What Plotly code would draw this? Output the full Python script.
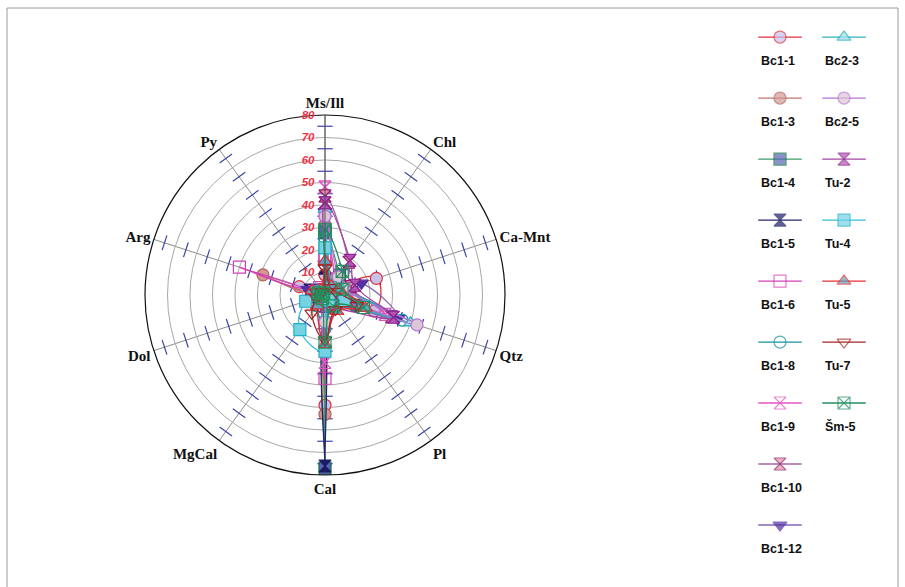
import plotly.graph_objects as go

# Mineral axes, clockwise from the top
minerals = ["Ms/Ill", "Chl", "Ca-Mnt", "Qtz", "Pl", "Cal", "MgCal", "Dol", "Arg", "Py"]
radial_ticks = [10, 20, 30, 40, 50, 60, 70, 80]

# Mineral contents (%) per sample, in the order of `minerals`
bc1_1 = [9, 6, 24, 23, 5, 49, 3, 4, 12, 3]
bc1_3 = [31, 5, 6, 12, 4, 53, 2, 3, 29, 2]
bc1_4 = [28, 11, 8, 15, 6, 77, 2, 2, 3, 1]
bc1_5 = [12, 4, 7, 8, 3, 76, 2, 3, 7, 2]
bc1_6 = [16, 5, 4, 10, 4, 37, 3, 2, 40, 4]
bc1_8 = [25, 6, 9, 36, 5, 15, 6, 3, 3, 2]
bc1_9 = [48, 9, 10, 28, 6, 30, 3, 2, 5, 2]
bc1_10 = [44, 18, 12, 31, 5, 8, 2, 2, 3, 2]
bc1_12 = [37, 7, 17, 34, 4, 6, 2, 3, 8, 3]
bc2_3 = [38, 6, 8, 40, 6, 10, 4, 3, 2, 2]
bc2_5 = [35, 10, 9, 43, 5, 12, 3, 2, 4, 2]
tu_2 = [41, 19, 14, 32, 7, 5, 2, 2, 3, 1]
tu_4 = [21, 4, 6, 9, 3, 25, 19, 9, 3, 2]
tu_5 = [15, 5, 7, 19, 9, 22, 6, 3, 6, 3]
tu_7 = [12, 4, 5, 15, 8, 20, 10, 4, 4, 2]
sm_5 = [29, 13, 8, 18, 6, 21, 2, 2, 3, 1]

samples = [
    ("Bc1-1", bc1_1), ("Bc1-3", bc1_3), ("Bc1-4", bc1_4), ("Bc1-5", bc1_5),
    ("Bc1-6", bc1_6), ("Bc1-8", bc1_8), ("Bc1-9", bc1_9), ("Bc1-10", bc1_10),
    ("Bc1-12", bc1_12), ("Bc2-3", bc2_3), ("Bc2-5", bc2_5), ("Tu-2", tu_2),
    ("Tu-4", tu_4), ("Tu-5", tu_5), ("Tu-7", tu_7), ("Šm-5", sm_5),
]

# Line colour, marker symbol, marker fill, marker outline
styles = {
    "Bc1-1": ("#e0303c", "circle", "#c6c2ea", "#e0303c"),
    "Bc1-3": ("#c07470", "circle", "#d29a94", "#b0605c"),
    "Bc1-4": ("#3c9c6c", "square", "#5864b4", "#107040"),
    "Bc1-5": ("#24246a", "hourglass", "#1c1c64", "#1c1c64"),
    "Bc1-6": ("#d440b4", "square-open", "#d440b4", "#d440b4"),
    "Bc1-8": ("#14929a", "circle-open", "#14929a", "#14929a"),
    "Bc1-9": ("#e452c4", "hourglass-open", "#e452c4", "#e452c4"),
    "Bc1-10": ("#a464a4", "hourglass", "#e894a8", "#902070"),
    "Bc1-12": ("#8464b4", "triangle-down", "#5530a0", "#5530a0"),
    "Bc2-3": ("#30b0c0", "triangle-up", "#a6e2ea", "#20a8b8"),
    "Bc2-5": ("#b474d4", "circle", "#dcc6d6", "#b474d4"),
    "Tu-2": ("#a444a4", "hourglass", "#b454b4", "#902090"),
    "Tu-4": ("#30c0d4", "square", "#74d2e2", "#20b0c8"),
    "Tu-5": ("#e43034", "triangle-up", "#5ca4c4", "#e43034"),
    "Tu-7": ("#a42424", "triangle-down-open", "#a42424", "#a42424"),
    "Šm-5": ("#20905c", "square-x-open", "#20905c", "#20905c"),
}

# Legend grid: (column, row) for each sample
legend_cells = {
    "Bc1-1": (0, 0), "Bc1-3": (0, 1), "Bc1-4": (0, 2), "Bc1-5": (0, 3),
    "Bc1-6": (0, 4), "Bc1-8": (0, 5), "Bc1-9": (0, 6), "Bc1-10": (0, 7),
    "Bc1-12": (0, 8),
    "Bc2-3": (1, 0), "Bc2-5": (1, 1), "Tu-2": (1, 2), "Tu-4": (1, 3),
    "Tu-5": (1, 4), "Tu-7": (1, 5), "Šm-5": (1, 6),
}

fig = go.Figure()

# Short tick dashes across every spoke, halfway between the grid circles
tick_theta, tick_r, tick_rot = [], [], []
for i, m in enumerate(minerals):
    for r in [5, 15, 25, 35, 45, 55, 65, 75]:
        tick_theta.append(m)
        tick_r.append(r)
        tick_rot.append(i * 36)
fig.add_trace(go.Scatterpolar(
    r=tick_r, theta=tick_theta, mode="markers",
    marker=dict(symbol="line-ew", size=11, angle=tick_rot,
                line=dict(color="#3a44a8", width=1.2)),
    hoverinfo="skip", showlegend=False,
))

for name, vals in samples:
    lc, sym, fc, mlc = styles[name]
    fig.add_trace(go.Scatterpolar(
        r=vals + vals[:1], theta=minerals + minerals[:1],
        mode="lines+markers", name=name, showlegend=False,
        line=dict(color=lc, width=1.3, shape="spline", smoothing=1.3),
        marker=dict(symbol=sym, size=12, color=fc,
                    line=dict(color=mlc, width=1.2)),
    ))

# Hand-laid legend: sample line with its marker, label underneath
for name, _ in samples:
    lc, sym, fc, mlc = styles[name]
    col, row = legend_cells[name]
    fig.add_trace(go.Scatter(
        x=[col - 0.34, col, col + 0.34], y=[row, row, row],
        mode="lines+markers", xaxis="x", yaxis="y", showlegend=False,
        hoverinfo="skip",
        line=dict(color=lc, width=1.3),
        marker=dict(symbol=sym, size=[0, 12, 0], color=fc,
                    line=dict(color=mlc, width=1.2)),
    ))
    fig.add_annotation(
        x=col - 0.33, y=row + 0.39, xref="x", yref="y", text=name,
        showarrow=False, xanchor="left", yanchor="middle",
        font=dict(family="Liberation Sans, Arial", size=12.5,
                  color="#111111", weight="bold"),
    )

fig.update_layout(
    width=905, height=587,
    margin=dict(l=0, r=0, t=0, b=0),
    paper_bgcolor="white", plot_bgcolor="white",
    showlegend=False,
    polar=dict(
        domain=dict(x=[(325 - 180) / 905, (325 + 180) / 905],
                    y=[(587 - 295 - 180) / 587, (587 - 295 + 180) / 587]),
        bgcolor="white",
        angularaxis=dict(
            categoryorder="array", categoryarray=minerals,
            rotation=90, direction="clockwise",
            showline=True, linecolor="#111111", linewidth=1.2,
            showgrid=True, gridcolor="#8c8c8c", gridwidth=1,
            ticks="",
            tickfont=dict(family="Liberation Serif, Times New Roman",
                          size=15, color="#111111", weight="bold"),
        ),
        radialaxis=dict(
            range=[0, 80], tickvals=radial_ticks, angle=90, tickangle=90,
            side="counterclockwise",
            showline=True, linecolor="#555555", linewidth=1,
            showgrid=True, gridcolor="#a8a8a8", gridwidth=1,
            ticks="outside", ticklen=6, tickcolor="rgba(0,0,0,0)",
            tickfont=dict(family="Liberation Sans, Arial", size=11.5,
                          color="#ee3344", style="italic", weight="bold"),
        ),
    ),
    xaxis=dict(domain=[0.8, 1.0], range=[-0.875, 1.953], visible=False,
               fixedrange=True),
    yaxis=dict(domain=[0.0, 1.0], range=[9.016, -0.607], visible=False,
               fixedrange=True),
    shapes=[dict(type="rect", xref="paper", yref="paper",
                 x0=7 / 905, x1=898 / 905, y0=-0.02, y1=1 - 8 / 587,
                 line=dict(color="#9a9a9a", width=1), layer="below")],
)

fig.write_html("out.html")
